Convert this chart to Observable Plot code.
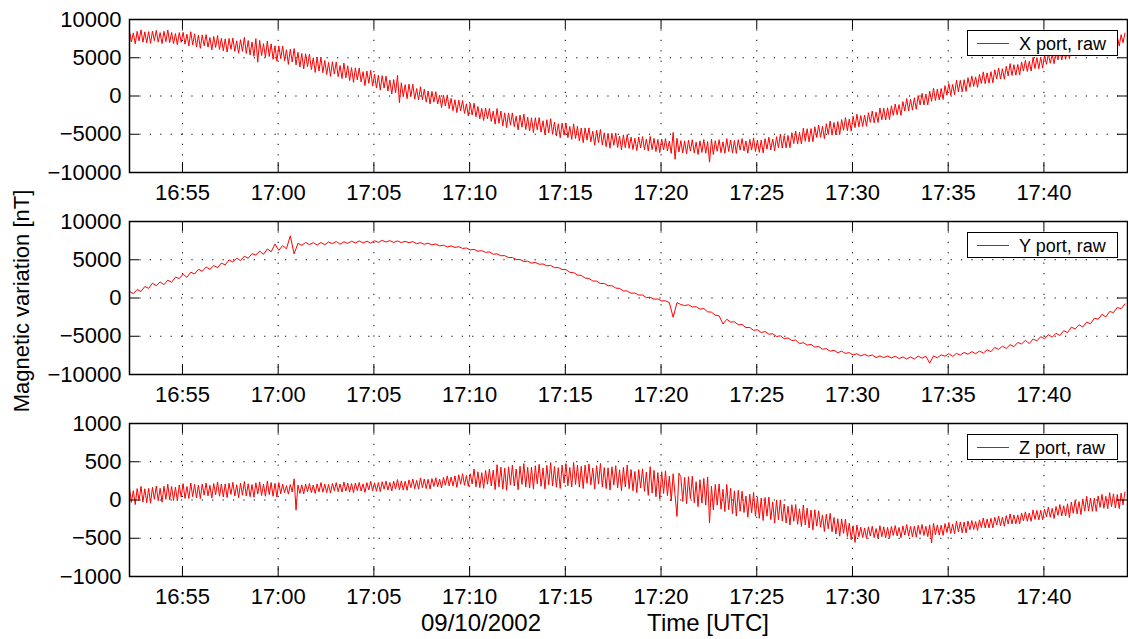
<!DOCTYPE html>
<html><head><meta charset="utf-8">
<script src="https://cdn.jsdelivr.net/npm/d3@7"></script>
<script src="https://cdn.jsdelivr.net/npm/@observablehq/plot@0.6"></script>
<style>
body{margin:0;background:#fff;}
#chart{position:relative;width:1128px;height:639px;overflow:hidden;font-family:"Liberation Sans",Arial,Helvetica,sans-serif;}
#chart > svg{position:absolute;left:0;}
</style></head><body><div id="chart"></div>
<script>
// time axis
const startTime = "2002-09-10T16:52:14Z";
const endTime = "2002-09-10T17:44:22Z";
const xStepSeconds = 6, yStepSeconds = 12, zStepSeconds = 6;
const timeTicks = ["16:55","17:00","17:05","17:10","17:15","17:20","17:25","17:30","17:35","17:40"];
const xyTicks = [-10000,-5000,0,5000,10000];
const zTicks = [-1000,-500,0,500,1000];
const legendNames = ["X port, raw","Y port, raw","Z port, raw"];
const dateLabel = "09/10/2002";
const timeLabel = "Time [UTC]";
const yLabel = "Magnetic variation [nT]";

// series values [nT]
const xPort = [
8500,7070,8250,6820,8450,7200,8640,7030,8390,6960, 8410,6880,8490,7230,8570,7040,8290,6850,8460,7110,
8630,6980,8310,6840,8170,6700,8290,7010,8330,6780, 8070,6540,8400,6670,8130,6400,7960,6230,7990,6560,
8020,6390,7650,6020,7780,6350,7910,6080,7540,5910, 7470,5740,7520,6090,7570,5840,7210,5590,7360,5840,
7660,5560,7250,5370,7060,5190,7500,4420,7270,5280, 6850,5060,7180,5160,6820,4800,6570,4550,6550,4880,
6540,4620,6040,4130,6120,4440,6200,4060,5710,3790, 5560,3530,5520,3840,5490,3460,4990,3080,5070,3270,
5100,3050,4640,2810,4390,2570,4480,2870,4450,2520, 3990,2280,4300,2370,3950,2020,3710,1780,3690,2090,
3670,1840,3190,1360,3270,1660,3340,1290,2870,1030, 2720,770,2660,1040,2600,650,2100,260,2150,420,
2700,-870,1730,-100,1480,-350,1560,-50,1530,-410, 970,-530,1210,-480,880,-810,650,-1040,600,-800,
560,-1050,100,-1510,120,-1300,140,-1660,-320,-1920, -490,-2170,-540,-1940,-590,-2280,-1020,-2620,-980,-2480,
-940,-2720,-1370,-2970,-1620,-3210,-1570,-2980,-1630,-3320, -1970,-3680,-1640,-3570,-1980,-3910,-2200,-4130,-2210,-3800,
-2210,-4010,-2630,-4430,-2490,-4080,-2360,-4380,-2770,-4580, -2860,-4770,-2840,-4420,-2820,-4730,-3230,-5040,-3100,-4800,
-2970,-5010,-3410,-5230,-3630,-5450,-3530,-5120,-3530,-5450, -3970,-5670,-3640,-5560,-3960,-5890,-4180,-6100,-4170,-5770,
-4170,-5980,-4600,-6420,-4490,-6080,-4370,-6400,-4810,-6620, -4910,-6820,-4870,-6450,-4830,-6740,-5230,-7030,-5080,-6770,
-5030,-6850,-5370,-7000,-5520,-7140,-5360,-6780,-5310,-7030, -5650,-7170,-5290,-7020,-5540,-7260,-5680,-7400,-5630,-7050,
-5570,-7180,-5890,-7500,-4760,-8270,-5520,-7330,-5840,-7450, -5860,-7570,-5790,-7200,-5710,-7430,-6040,-7650,-5860,-7380,
-5690,-7480,-5970,-8650,-5650,-7650,-5840,-7230,-5720,-7410, -6000,-7490,-5570,-7260,-5750,-7440,-5820,-7510,-5700,-7080,
-5570,-7170,-5870,-7470,-5670,-7070,-5470,-7270,-5770,-7370, -5770,-7430,-5580,-6940,-5390,-7050,-5610,-7160,-5320,-6770,
-4980,-6810,-5170,-6780,-5140,-6760,-4800,-6210,-4570,-6290, -4750,-6260,-4200,-5920,-4280,-6000,-4260,-5980,-4020,-5430,
-3790,-5400,-3970,-5580,-3630,-5030,-3280,-5110,-3470,-5080, -3340,-5050,-3080,-4480,-2830,-4540,-3000,-4600,-2640,-4140,
-2380,-4030,-2540,-3990,-2500,-3960,-2180,-3450,-1960,-3510, -2110,-3460,-1570,-3110,-1600,-3140,-1540,-3080,-1290,-2540,
-1040,-2460,-1120,-2540,-730,-1960,-340,-1950,-430,-1850, -230,-1740,60,-1170,350,-1170,260,-1170,640,-690,
1020,-600,910,-520,990,-450,1350,110,1620,90, 1510,170,2060,540,2050,520,2130,600,2400,1150,
2620,1250,2500,1130,2830,1640,3150,1610,3030,1670, 3180,1730,3430,2240,3670,2220,3560,2200,3890,2620,
4230,2680,4090,2720,4130,2760,4450,3250,4670,3200, 4530,3260,5050,3590,5020,3570,5090,3640,5330,4150,
5490,4290,5420,4220,5740,4710,6070,4710,5990,4800, 6160,4870,6380,5330,6600,5310,6500,5290,6800,5670,
7100,5720,6980,5760,7020,5800,7300,6240,7500,6200, 7380,6240,7820,6520,7780,6480,7820,6520,8020,6960,
8220];
const yPort = [
870,570,1110,840,1500, 1260,1930,1610,2100,1750, 2330,2050,2730,2540,3130, 2700,3370,3140,3750,3490,
4050,3750,4240,3970,4570, 4330,4980,4710,5200,4900, 5470,5190,5800,5610,6140, 5700,6420,6040,7060,6230,
6850,6440,8130,5760,7150, 6880,7260,6980,7230,6930, 7250,6970,7320,7100,7390, 7030,7350,7140,7430,7190,
7460,7190,7430,7170,7480, 7270,7540,7320,7500,7260, 7460,7250,7410,7230,7370, 7090,7240,7030,7160,6940,
7060,6810,6910,6670,6810, 6610,6710,6480,6530,6290, 6360,6110,6190,5970,6020, 5720,5770,5520,5540,5280,
5300,5030,5030,4770,4810, 4560,4650,4410,4450,4200, 4260,3960,3980,3720,3710, 3360,3330,3000,2950,2610,
2550,2230,2200,1890,1900, 1600,1610,1300,1250,930, 910,620,650,390,390, 50,100,-150,-120,-380,
-370,-600,-2530,-610,-850, -990,-880,-1170,-1140,-1450, -1380,-1810,-1850,-2250,-2330, -3400,-2780,-3150,-3110,-3500,
-3470,-3870,-3850,-4230,-4150, -4520,-4380,-4730,-4670,-5040, -4940,-5320,-5220,-5560,-5500, -5960,-5840,-6160,-6070,-6410,
-6340,-6690,-6620,-6960,-6830, -7150,-6950,-7250,-7140,-7450, -7290,-7570,-7360,-7600,-7440, -7790,-7560,-7790,-7590,-7830,
-7620,-7910,-7710,-7980,-7700, -7980,-7590,-7870,-7600,-8520, -7570,-7820,-7430,-7610,-7280, -7630,-7250,-7460,-7120,-7350,
-7010,-7290,-6940,-7200,-6770, -7020,-6460,-6720,-6300,-6590, -6100,-6360,-5820,-6010,-5540, -5960,-5360,-5600,-5060,-5330,
-4800,-5120,-4610,-4900,-4270, -4530,-3800,-4060,-3500,-3790, -3150,-3370,-2640,-2770,-2130, -2480,-1770,-1900,-1240,-1400,
-770];
const zPort = [
152,-31,122,-60,149,-9,177,-28,147,-35, 152,-42,167,8,183,-10,153,-29,180,9,
207,2,177,-5,170,-12,197,38,214,20, 177,20,222,44,203,26,196,18,208,63,
222,54,192,25,215,69,237,49,208,40, 210,31,220,73,231,52,199,31,220,62,
241,53,212,43,202,35,225,79,237,59, 207,49,249,70,228,49,218,39,228,81,
207,96,187,76,202,105,277,-132,197,86, 198,80,207,109,215,97,196,85,211,107,
227,102,208,97,203,92,218,121,227,109, 208,103,236,117,222,103,215,96,222,124,
229,118,211,100,227,131,244,119,225,115, 228,110,238,141,247,130,229,118,245,142,
267,134,249,129,244,126,263,160,274,148, 255,143,288,161,275,149,271,144,280,177,
291,173,274,157,295,193,316,184,300,182, 316,165,329,206,343,192,320,178,343,210,
405,172,369,162,358,152,387,206,402,183, 390,136,461,173,429,142,415,127,434,198,
454,183,405,134,441,204,476,171,427,156, 429,141,448,211,467,179,417,146,453,199,
489,183,439,167,423,151,457,220,475,187, 425,170,492,203,457,168,440,150,456,217,
472,198,417,144,448,208,478,170,424,150, 420,130,434,195,449,159,395,122,427,170,
458,148,398,122,373,97,398,156,407,113, 365,61,436,92,387,43,359,14,370,85,
381,57,312,-12,343,59,-215,350,306,-19, 297,-49,304,18,311,-35,238,-88,265,-41,
282,-67,300,-300,180,-131,204,-68,210,-119, 140,-151,203,-126,152,-178,120,-210,126,-147,
114,-163,52,-225,76,-168,99,-212,38,-240, 27,-268,33,-211,39,-256,-24,-301,-1,-261,
2,-274,-54,-300,-81,-327,-62,-278,-59,-319, -115,-345,-65,-326,-106,-366,-131,-391,-127,-342,
-140,-356,-195,-411,-185,-375,-174,-416,-229,-445, -245,-474,-247,-437,-249,-478,-303,-519,-336,-554,
-326,-480,-354,-492,-365,-503,-351,-471,-344,-491, -373,-500,-336,-480,-351,-495,-356,-500,-346,-463,
-334,-470,-358,-493,-339,-458,-321,-473,-344,-480, -342,-486,-331,-449,-320,-464,-343,-478,-324,-562,
-304,-455,-325,-459,-329,-463,-308,-425,-294,-437, -316,-441,-276,-418,-287,-429,-288,-430,-274,-390,
-268,-385,-282,-398,-259,-360,-235,-366,-249,-365, -240,-364,-226,-327,-211,-335,-226,-343,-204,-314,
-182,-313,-195,-312,-195,-311,-171,-272,-155,-278, -169,-278,-130,-254,-136,-260,-135,-258,-119,-219,
-93,-226,-110,-242,-85,-200,-59,-208,-76,-208, -50,-230,-26,-173,-2,-182,-21,-191,14,-145,
49,-145,25,-147,23,-149,53,-96,73,-109, 49,-114,97,-87,80,-105,73,-112,89,-63,
104];

const panels = [
  {name: legendNames[0], values: xPort, step: xStepSeconds, domain: [-10000, 10000], ticks: xyTicks},
  {name: legendNames[1], values: yPort, step: yStepSeconds, domain: [-10000, 10000], ticks: xyTicks},
  {name: legendNames[2], values: zPort, step: zStepSeconds, domain: [-1000, 1000], ticks: zTicks}
];

const FONT = '"Liberation Sans", Arial, Helvetica, sans-serif';
const W = 1128, H = 202, ML = 129, MR = 1, MT = 19, MB = 30;
const innerW = W - ML - MR, innerH = H - MT - MB;
const tickLen = 10;
const t0 = Date.parse(startTime);
const tickDates = timeTicks.map(s => new Date(`2002-09-10T${s}:00Z`));
const chart = document.getElementById("chart");
const grid = {stroke: "black", strokeOpacity: 1, strokeWidth: 1, strokeDasharray: "1.2,9.2"};

panels.forEach((p, i) => {
  const data = p.values.map((v, k) => ({t: new Date(t0 + k * p.step * 1000), v}));
  const svg = Plot.plot({
    width: W, height: H,
    marginLeft: ML, marginRight: MR, marginTop: MT, marginBottom: MB,
    style: {fontFamily: FONT, fontSize: "22px", color: "black", background: "transparent", overflow: "visible"},
    x: {type: "utc", domain: [new Date(startTime), new Date(endTime)]},
    y: {domain: p.domain},
    marks: [
      Plot.gridX(tickDates, grid),
      Plot.gridY(p.ticks, grid),
      Plot.line(data, {x: "t", y: "v", stroke: "#ff0000", strokeWidth: 1, clip: true}),
      Plot.tickX(tickDates, {x: d => d, stroke: "black", strokeWidth: 1, insetTop: innerH - tickLen}),
      Plot.tickX(tickDates, {x: d => d, stroke: "black", strokeWidth: 1, insetBottom: innerH - tickLen}),
      Plot.tickY(p.ticks, {y: d => d, stroke: "black", strokeWidth: 1, insetRight: innerW - tickLen}),
      Plot.tickY(p.ticks, {y: d => d, stroke: "black", strokeWidth: 1, insetLeft: innerW - tickLen}),
      Plot.frame({stroke: "black", strokeWidth: 1.5}),
      Plot.axisX(tickDates, {tickSize: 0, tickPadding: 12, tickFormat: d3.utcFormat("%H:%M"), label: null}),
      Plot.axisY(p.ticks, {tickSize: 0, tickPadding: 8, tickFormat: d3.format("d"), label: null})
    ]
  });
  svg.style.top = (i * H) + "px";
  // legend box
  const g = d3.select(svg).append("g");
  g.append("rect").attr("x", 967.5).attr("y", MT + 11.5).attr("width", 150).attr("height", 25)
    .attr("fill", "white").attr("stroke", "black").attr("stroke-width", 1);
  g.append("line").attr("x1", 977).attr("x2", 1009).attr("y1", MT + 24.5).attr("y2", MT + 24.5)
    .attr("stroke", "#ff0000").attr("stroke-width", 1);
  g.append("text").attr("x", 1019).attr("y", MT + 24.5).attr("dy", "0.35em")
    .attr("text-anchor", "start").attr("font-size", 18).attr("font-family", FONT)
    .attr("fill", "black").text(p.name);
  chart.appendChild(svg);
});

// overlay labels
const ov = d3.select(chart).append("svg").attr("width", W).attr("height", 639)
  .style("top", "0px").style("font-family", FONT);
ov.append("text").attr("transform", "translate(29,301) rotate(-90)").attr("text-anchor", "middle")
  .attr("font-size", 22).attr("fill", "black").text(yLabel);
ov.append("text").attr("x", 481).attr("y", 631).attr("text-anchor", "middle")
  .attr("font-size", 24).attr("fill", "black").text(dateLabel);
ov.append("text").attr("x", 708).attr("y", 631).attr("text-anchor", "middle")
  .attr("font-size", 24).attr("fill", "black").text(timeLabel);
</script></body></html>
